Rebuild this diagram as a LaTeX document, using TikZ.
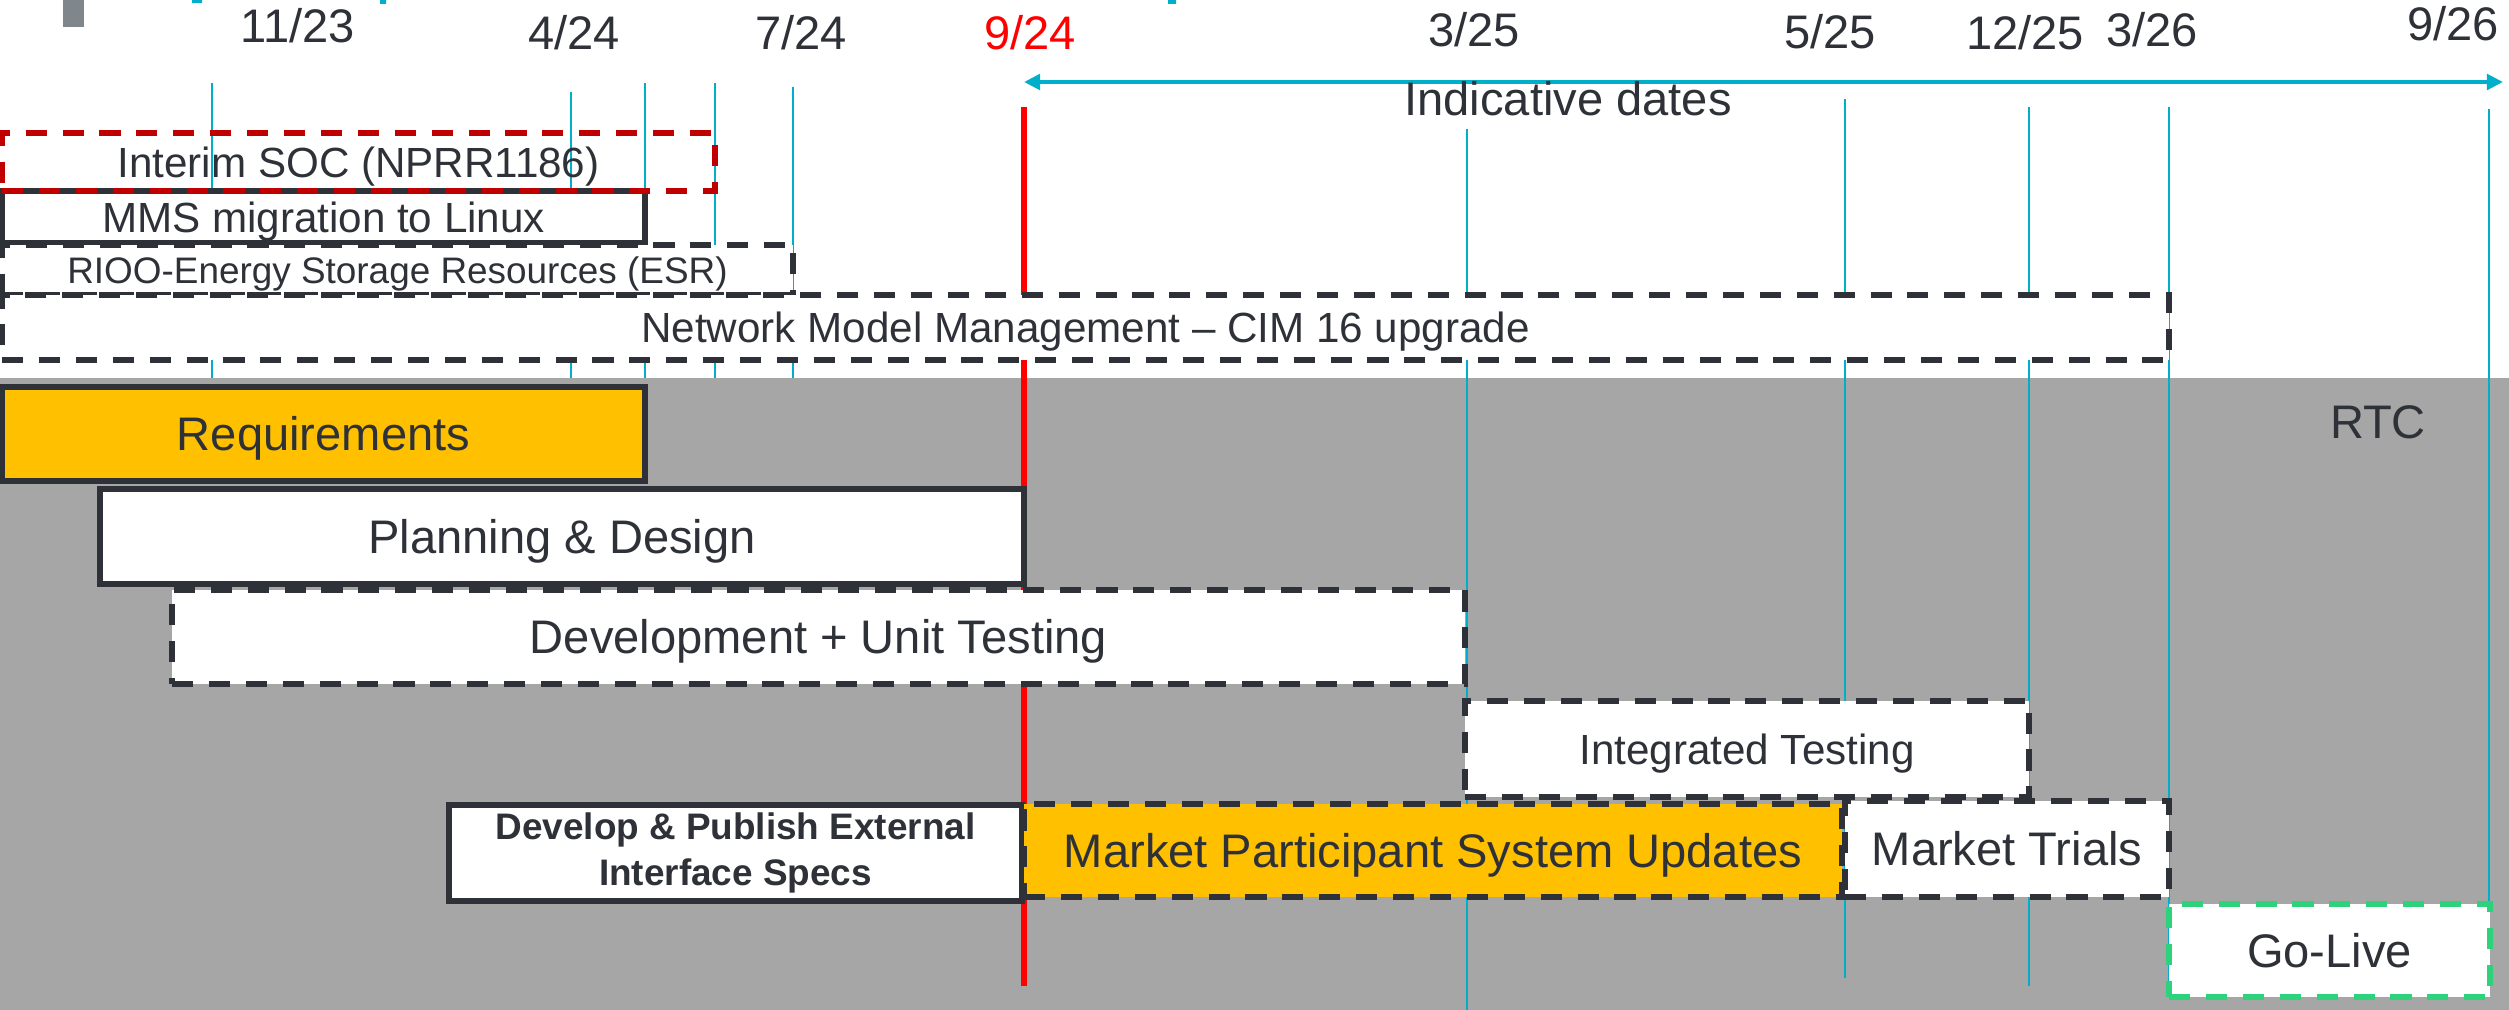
\documentclass[tikz,border=0pt]{standalone}
\usepackage{fontspec}
\setmainfont{Liberation Sans}
\usetikzlibrary{arrows.meta}
\definecolor{ink}{RGB}{46,50,56}
\definecolor{tealline}{RGB}{0,176,202}
\definecolor{amber}{RGB}{255,192,0}
\definecolor{rtcgray}{RGB}{166,166,166}
\definecolor{socred}{RGB}{192,0,0}
\definecolor{livegreen}{RGB}{46,209,124}
\definecolor{slate}{RGB}{127,134,140}
\tikzset{
  big/.style={font=\fontsize{13.4}{16}\selectfont, text height=9.6pt, text depth=0pt},
  mid/.style={font=\fontsize{12}{14.4}\selectfont, text height=8.6pt, text depth=0pt},
  small/.style={font=\fontsize{10.5}{13.1}\selectfont, text height=7.5pt, text depth=0pt},
  bar/.style={draw=ink, line width=1.5pt, fill=white, text=ink, inner sep=0pt},
  dashbar/.style={bar, dash pattern=on 6pt off 4.5pt},
  date/.style={big, text=ink, inner sep=0pt},
  dateline/.style={draw=tealline, line width=0.6pt},
}
\begin{document}
\begin{tikzpicture}[x=0.1mm, y=-0.1mm]
        \useasboundingbox (0,0) rectangle (2509,1010);
        \fill[slate] (63,0) rectangle (84,27);
        \fill[tealline] (192,0) rectangle (202,3) (380,0) rectangle (386,4) (1168,0) rectangle (1176,4);
        \node[date] (d1123) at (298,26) {11/23};
        \node[date] (d424) at (574,33) {4/24};
        \node[date] (d724) at (801,33) {7/24};
        \node[date, text=red] (d924) at (1030,33) {9/24};
        \node[date] (d325) at (1474,30) {3/25};
        \node[date] (d525) at (1830,32) {5/25};
        \node[date] (d1225) at (2025,33) {12/25};
        \node[date] (d326) at (2152,30) {3/26};
        \node[date] (d926) at (2453,24) {9/26};
        \coordinate (spanL) at (1024,82);
        \coordinate (spanR) at (2503,82);
        \draw[tealline, line width=1.3pt, {Triangle[length=4.6pt,width=4.4pt]}-{Triangle[length=4.6pt,width=4.4pt]}] (spanL) -- (spanR);
        \node[date] (indic) at (1568,99) {Indicative dates};
        \foreach \x/\top in {212/83, 571/92, 645/83, 715/83, 793/87}
          \draw[dateline] (\x,\top) -- (\x,378);
        \fill[rtcgray] (0,378) rectangle (2509,1010);
        \foreach \x/\top/\bot in {1467/129/1010, 1845/99/978, 2029/107/986, 2169/107/990, 2489/109/905}
          \draw[dateline] (\x,\top) -- (\x,\bot);
        \draw[red, line width=1.6pt] (1024,107) -- (1024,986);
        % side projects
        \node[bar, mid, minimum width=64.3mm, minimum height=5.2mm] (mms) at (323.5,217) {MMS migration to Linux};
        \node[bar, draw=socred, fill=none, dash pattern=on 6pt off 4.5pt, mid, minimum width=71.3mm, minimum height=5.8mm] (soc) at (358.5,162) {Interim SOC (NPRR1186)};
        \node[dashbar, small, minimum width=79.1mm, minimum height=5mm] (rioo) at (397.5,270) {RIOO-Energy Storage Resources (ESR)};
        \node[dashbar, mid, minimum width=216.7mm, minimum height=6.5mm] (nmm) at (1085.5,327.5) {Network Model Management – CIM 16 upgrade};
        % RTC phases
        \node[date] (rtc) at (2378,422) {RTC};
        \node[bar, fill=amber, big, minimum width=64.3mm, minimum height=9.4mm] (req) at (323.5,434) {Requirements};
        \node[bar, big, minimum width=92.4mm, minimum height=9.5mm] (plan) at (562,536.5) {Planning \& Design};
        \node[dashbar, big, minimum width=129.3mm, minimum height=9.4mm] (dev) at (818.5,637) {Development + Unit Testing};
        \node[dashbar, mid, minimum width=56.4mm, minimum height=9.6mm] (inttest) at (1747,749) {Integrated Testing};
        \node[bar, align=center, font=\fontsize{10.5}{13.1}\selectfont\bfseries, minimum width=57.3mm, minimum height=9.6mm] (specs) at (735.5,853) {Develop \& Publish External\\Interface Specs};
        \node[dashbar, fill=amber, big, minimum width=81.8mm, minimum height=9.3mm] (mpsu) at (1433,850.5) {Market Participant System Updates};
        \node[dashbar, big, minimum width=32.4mm, minimum height=9.6mm] (trials) at (2007,849) {Market Trials};
        \node[dashbar, draw=livegreen, big, minimum width=32.1mm, minimum height=9.3mm] (golive) at (2329.5,950.5) {Go-Live};
      \end{tikzpicture}
\end{document}
